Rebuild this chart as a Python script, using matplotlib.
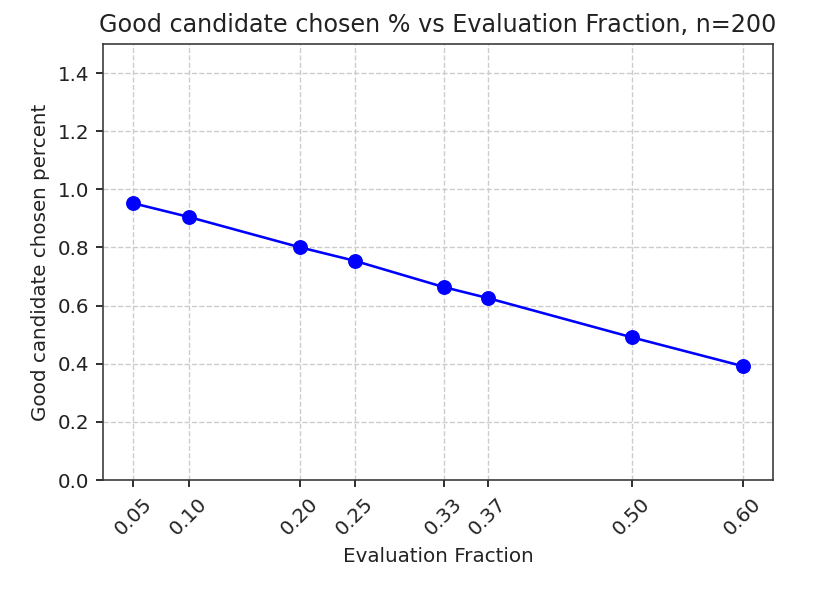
import numpy as np
import matplotlib.pyplot as plt

fractions = [0.05, 0.10, 0.20, 0.25, 0.33, 0.37, 0.50, 0.60]
good_pct = [0.952, 0.905, 0.801, 0.754, 0.664, 0.626, 0.491, 0.392]
tick_labels = ['0.05', '0.10', '0.20', '0.25', '0.33', '0.37', '0.50', '0.60']

dpi = 143
fig = plt.figure(figsize=(826 / dpi, 590 / dpi), dpi=dpi)
ax = fig.add_subplot(111)
fig.subplots_adjust(left=0.1247, right=0.9358, top=0.9254, bottom=0.1864)

ax.plot(fractions, good_pct, color='blue', marker='o', markersize=6.5, linewidth=1.3)

ax.set_title('Good candidate chosen % vs Evaluation Fraction, n=200', color='#222222')
ax.set_xlabel('Evaluation Fraction', color='#222222')
ax.set_ylabel('Good candidate chosen percent', color='#222222')
ax.set_ylim(0, 1.5)
ax.set_yticks(np.arange(0, 1.5, 0.2))
ax.set_xticks(fractions)
ax.set_xticklabels(tick_labels, rotation=45)
ax.tick_params(labelcolor='#222222')
for s in ax.spines.values():
    s.set_color('#333333')
ax.grid(True, linestyle='--', color='#cccccc', linewidth=0.7)

plt.savefig('out.png', dpi=dpi)
